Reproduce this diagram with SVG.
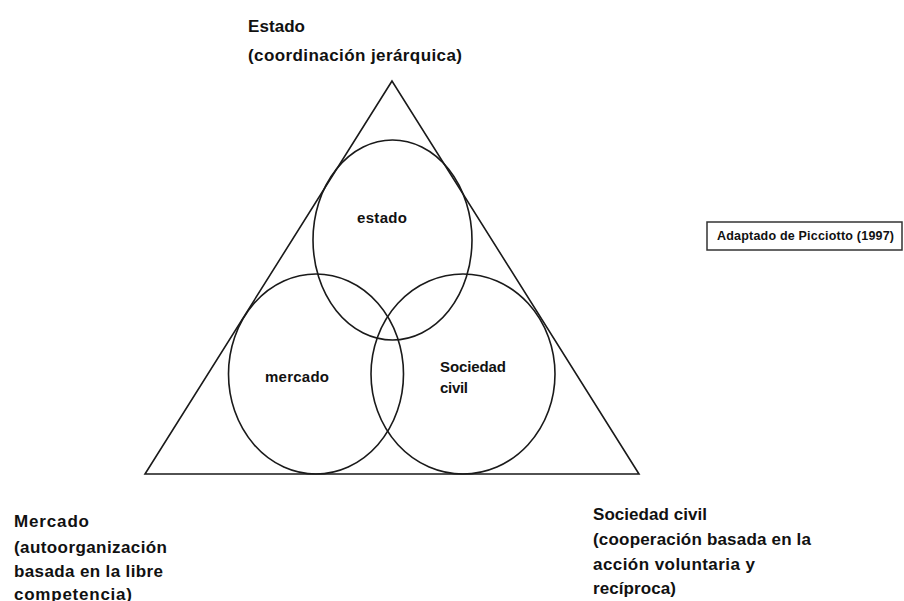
<svg xmlns="http://www.w3.org/2000/svg" width="904" height="601" viewBox="0 0 904 601">
<style>
.ln{fill:none;stroke:#1a1a1a;stroke-width:1.6}
.t{font-family:"Liberation Sans",Arial,sans-serif;font-weight:bold;fill:#111}
.o{font-size:17px}
.i{font-size:15px}
.b{font-size:12.5px}
</style>
<rect width="904" height="601" fill="#fff"/>
<g id="triangle">
<polygon class="ln" points="392,81 145,474 639,474"/>
</g>
<g id="circle-estado">
<ellipse class="ln" cx="392.5" cy="240" rx="79.5" ry="100"/>
<text class="t i" x="357" y="223" textLength="50">estado</text>
</g>
<g id="circle-mercado">
<ellipse class="ln" cx="316" cy="374" rx="87.5" ry="100"/>
<text class="t i" x="265" y="382" textLength="64">mercado</text>
</g>
<g id="circle-sociedad">
<ellipse class="ln" cx="463" cy="374" rx="92" ry="100"/>
<text class="t i" x="440" y="372" textLength="66">Sociedad</text>
<text class="t i" x="440" y="393" textLength="28">civil</text>
</g>
<g id="label-estado">
<text class="t o" x="248" y="32" textLength="57">Estado</text>
<text class="t o" x="248" y="61" textLength="214">(coordinación jerárquica)</text>
</g>
<g id="label-mercado">
<text class="t o" x="14" y="527" textLength="75">Mercado</text>
<text class="t o" x="14" y="553" textLength="153">(autoorganización</text>
<text class="t o" x="14" y="577" textLength="149">basada en la libre</text>
<text class="t o" x="14" y="600" textLength="118">competencia)</text>
</g>
<g id="label-sociedad">
<text class="t o" x="593" y="520" textLength="114">Sociedad civil</text>
<text class="t o" x="593" y="545" textLength="218">(cooperación basada en la</text>
<text class="t o" x="593" y="570" textLength="162">acción voluntaria y</text>
<text class="t o" x="593" y="594" textLength="83">recíproca)</text>
</g>
<g id="source-box">
<rect x="707" y="222" width="195" height="28" fill="#fff" stroke="#333" stroke-width="1.5"/>
<text class="t b" x="717" y="240" textLength="177">Adaptado de Picciotto (1997)</text>
</g>
</svg>
